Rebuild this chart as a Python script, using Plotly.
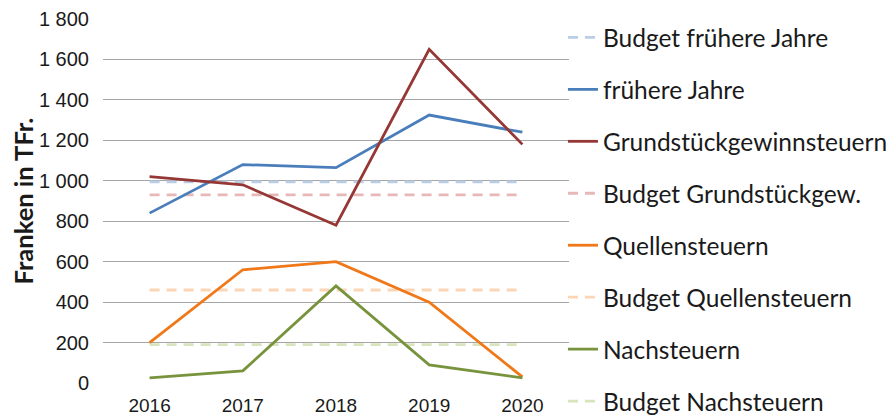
import plotly.graph_objects as go

years = ["2016", "2017", "2018", "2019", "2020"]
fruehere_jahre = [840, 1080, 1065, 1325, 1240]
grundstueck = [1020, 980, 780, 1650, 1180]
quellen = [200, 560, 600, 400, 30]
nachsteuern = [25, 60, 480, 90, 25]
budget_fruehere = [995, 995, 995, 995, 995]
budget_grund = [930, 930, 930, 930, 930]
budget_quellen = [460, 460, 460, 460, 460]
budget_nach = [190, 190, 190, 190, 190]

series = [
    ("Budget frühere Jahre", budget_fruehere, "#B9CDE5", True),
    ("frühere Jahre", fruehere_jahre, "#4A7EBB", False),
    ("Grundstückgewinnsteuern", grundstueck, "#953735", False),
    ("Budget Grundstückgew.", budget_grund, "#E6B9B8", True),
    ("Quellensteuern", quellen, "#F07818", False),
    ("Budget Quellensteuern", budget_quellen, "#FCD5B5", True),
    ("Nachsteuern", nachsteuern, "#77933C", False),
    ("Budget Nachsteuern", budget_nach, "#D7E4BD", True),
]

fig = go.Figure()
for i, (name, vals, color, dashed) in enumerate(series):
    fig.add_trace(go.Scatter(
        x=years, y=vals, name=name, mode="lines",
        legendgroup=f"g{i}",
        zorder=0 if dashed else 1,
        line=dict(color=color, width=2.8, dash="10px,7px" if dashed else "solid"),
    ))

# page body has an 8px margin, so the figure is made 8px smaller in each direction
fig.update_layout(
    width=887, height=408,
    margin=dict(l=95, r=326, t=11, b=33, autoexpand=False),
    paper_bgcolor="white", plot_bgcolor="white",
    separators=". ",
    showlegend=True,
    legend=dict(
        x=0.987, xanchor="left", y=1.011, yanchor="top",
        font=dict(family="Lato", size=24.5, color="#1a1a1a"),
        traceorder="grouped",
        tracegroupgap=17.1,
        maxheight=1000,
        bgcolor="rgba(0,0,0,0)",
    ),
    xaxis=dict(
        type="category", range=[-0.5, 4.5], showgrid=False, zeroline=False,
        showline=False, ticks="", ticklabelstandoff=9, automargin=False,
        tickfont=dict(family="Liberation Sans", size=19, color="#1a1a1a"),
    ),
    yaxis=dict(
        range=[0, 1800], dtick=200, separatethousands=True,
        showgrid=True, gridcolor="#A6A6A6", gridwidth=1,
        zeroline=False, showline=True, linecolor="#A6A6A6", linewidth=1,
        ticks="", ticklabelstandoff=9, automargin=False,
        tickfont=dict(family="Liberation Sans", size=20, color="#1a1a1a"),
        title=dict(text="<b>Franken in TFr.</b>", font=dict(family="Lato", size=25.5, color="#1a1a1a"), standoff=7),
    ),
)

fig.write_html("out.html")
